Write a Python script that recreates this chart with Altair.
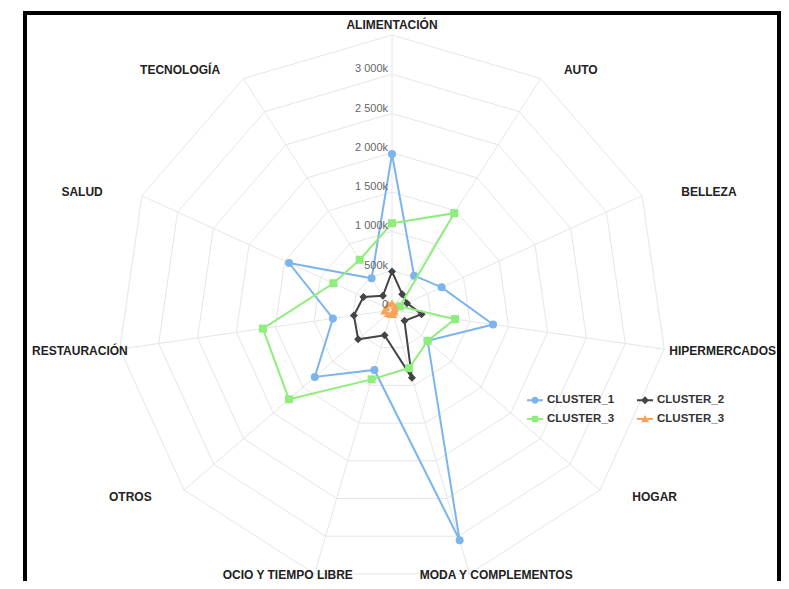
import json
import math
import altair as alt
import pandas as pd

# ---------------- data ----------------
categories = ["ALIMENTACIÓN", "AUTO", "BELLEZA", "HIPERMERCADOS", "HOGAR",
              "MODA Y COMPLEMENTOS", "OCIO Y TIEMPO LIBRE", "OTROS",
              "RESTAURACIÓN", "SALUD", "TECNOLOGÍA"]
series_names = ["CLUSTER_1", "CLUSTER_2", "CLUSTER_3", "CLUSTER_3"]
cluster_1 = [1985000, 520000, 695000, 1300000, 600000, 3055000, 795000, 1300000, 760000, 1440000, 480000]
cluster_2 = [490000, 240000, 210000, 380000, 210000, 900000, 335000, 570000, 490000, 400000, 215000]
cluster_3 = [1105000, 1465000, 110000, 810000, 600000, 770000, 920000, 1735000, 1660000, 820000, 760000]
cluster_3_b = [90000, 60000, 40000, 30000, 40000, 60000, 60000, 70000, 100000, 80000, 90000]
series_values = [cluster_1, cluster_2, cluster_3, cluster_3_b]
tick_values = [0, 500000, 1000000, 1500000, 2000000, 2500000, 3000000]
tick_labels = ["0", "500k", "1 000k", "1 500k", "2 000k", "2 500k", "3 000k"]
ring_values = [500000, 1000000, 1500000, 2000000, 2500000, 3000000, 3500000]

colors = ["#7cb5ec", "#434348", "#90ed7d", "#f7a35c"]
shapes = ["circle", "diamond", "square", "triangle-up"]
legend_paths = [
    "M-1,-0.125H1V0.125H-1Z M0.44,0 A0.44,0.44 0 1,1 -0.44,0 A0.44,0.44 0 1,1 0.44,0Z",
    "M-1,-0.125H1V0.125H-1Z M0,-0.5L0.5,0L0,0.5L-0.5,0Z",
    "M-1,-0.125H1V0.125H-1Z M-0.4,-0.4H0.4V0.4H-0.4Z",
    "M-1,-0.125H1V0.125H-1Z M0,-0.5L0.5,0.4H-0.5Z",
]

# ---------------- layout ----------------
W, H = 756, 569
CX, CY = 367, 298
R_PX = 275
RMAX = 3500000
PX = R_PX / RMAX
X_DOM = [-CX / PX, (W - CX) / PX]
Y_DOM = [-(H - CY) / PX, CY / PX]
N = len(categories)
STEP = 2 * math.pi / N
RX_U = 318 / PX
RXC_U = 370 / PX
RY_U = 285 / PX
XL = X_DOM[0] + 7 / PX
XR = X_DOM[1] - 5 / PX
YB = Y_DOM[0] + 6 / PX
CW = 8.2 / PX
FONT = "Liberation Sans"

keys = []
for name in series_names:
    k = name
    while k in keys:
        k += " "
    keys.append(k)

rows = []
for key, vals in zip(keys, series_values):
    for i in range(N + 1):
        rows.append({"serie": key, "idx": i, "value": vals[i % N], "cat": categories[i % N]})
series_df = pd.DataFrame(rows)
grid_df = pd.DataFrame([{"ring": r, "idx": i} for r in ring_values for i in range(N + 1)])
spoke_df = pd.DataFrame({"idx": list(range(N))})
cat_df = pd.DataFrame({"cat": categories, "idx": list(range(N))})
tick_df = pd.DataFrame({"value": tick_values, "label": tick_labels})

xs = alt.Scale(domain=X_DOM, nice=False, zero=False)
ys = alt.Scale(domain=Y_DOM, nice=False, zero=False)


def X(f):
    return alt.X(f"{f}:Q", scale=xs, axis=None)


def Y(f):
    return alt.Y(f"{f}:Q", scale=ys, axis=None)


TH = f"datum.idx * {STEP}"

grid = alt.Chart(grid_df).transform_calculate(
    th=TH, gx="datum.ring * sin(datum.th)", gy="datum.ring * cos(datum.th)"
).mark_line(color="#e6e6e6", strokeWidth=1).encode(
    x=X("gx"), y=Y("gy"), detail="ring:N", order="idx:Q")

spokes = alt.Chart(spoke_df).transform_calculate(
    th=TH, x0="0", y0="0",
    x1=f"{RMAX} * sin(datum.th)", y1=f"{RMAX} * cos(datum.th)"
).mark_rule(color="#e6e6e6", strokeWidth=1).encode(
    x=X("x0"), y=Y("y0"), x2="x1:Q", y2="y1:Q")


def pick(values):
    expr = json.dumps(values[-1])
    for k, v in reversed(list(zip(keys[:-1], values[:-1]))):
        expr = f"datum.value === {json.dumps(k)} ? {json.dumps(v)} : ({expr})"
    return expr


legend = alt.Legend(
    orient="none", legendX=502, legendY=380, columns=2, columnPadding=22, rowPadding=5,
    direction="horizontal",
    symbolSize=256, symbolStrokeWidth=0, symbolOpacity=1, labelOffset=4,
    labelFont=FONT, labelFontSize=11.5, labelFontWeight="bold", labelColor="#333333",
    padding=0,
    symbolType=alt.ExprRef(pick(legend_paths)),
    symbolFillColor=alt.ExprRef(pick(colors)),
)
cscale = alt.Scale(domain=keys, range=colors)

base = alt.Chart(series_df).transform_calculate(
    th=TH, sx="datum.value * sin(datum.th)", sy="datum.value * cos(datum.th)")

series_layers = []
for key, shp in zip(keys, shapes):
    sb = base.transform_filter(f"datum.serie === {json.dumps(key)}")
    series_layers.append(sb.mark_line(strokeWidth=2).encode(
        x=X("sx"), y=Y("sy"),
        color=alt.Color("serie:N", scale=cscale, title=None, legend=legend),
        order="idx:Q"))
    series_layers.append(sb.transform_filter(f"datum.idx < {N}").mark_point(
        filled=True, size=64, opacity=1, shape=shp).encode(
        x=X("sx"), y=Y("sy"),
        color=alt.Color("serie:N", scale=cscale, title=None, legend=legend)))

lab = alt.Chart(cat_df).transform_calculate(
    th=TH, s="sin(datum.th)", c="cos(datum.th)",
    a0="datum.s > 0.35 ? 'left' : (datum.s < -0.35 ? 'right' : 'center')",
    lx0=f"(datum.a0 === 'center' ? {RXC_U} : {RX_U}) * datum.s",
    ly=f"max({RY_U} * datum.c, {YB})",
    w=f"length(datum.cat) * {CW}",
    over=f"datum.a0 === 'left' && datum.lx0 + datum.w > {XR} ? 1 : (datum.a0 === 'right' && datum.lx0 - datum.w < {XL} ? -1 : 0)",
    al="datum.over === 1 ? 'right' : (datum.over === -1 ? 'left' : datum.a0)",
    lx=f"datum.over === 1 ? {XR} : (datum.over === -1 ? {XL} : datum.lx0)",
)
label_layers = []
for a in ["left", "right", "center"]:
    label_layers.append(
        lab.transform_filter(f"datum.al === '{a}'").mark_text(
            align=a, baseline="middle", font=FONT, fontSize=12, fontWeight="bold",
            color="#222222").encode(x=X("lx"), y=Y("ly"), text="cat:N"))

ticks = alt.Chart(tick_df).transform_calculate(zero="0").mark_text(
    align="right", baseline="alphabetic", dx=-4, dy=-2, font=FONT, fontSize=11,
    color="#666666").encode(x=X("zero"), y=Y("value"), text="label:N")

frame = alt.Chart(pd.DataFrame({"f": [0]})).mark_rect(
    fillOpacity=0, stroke="#000000", strokeWidth=4).encode(
    x=alt.value(0), x2=alt.value(W - 2), y=alt.value(1), y2=alt.value(H + 20))

chart = alt.layer(grid, spokes, *series_layers, *label_layers, ticks, frame).properties(
    width=W, height=H,
    autosize=alt.AutoSizeParams(type="none"),
    padding={"left": 17, "top": 4, "right": 0, "bottom": 0},
    background="#ffffff",
).configure_view(strokeWidth=0)

chart.save("out.html", embed_options={"renderer": "svg", "actions": False})
